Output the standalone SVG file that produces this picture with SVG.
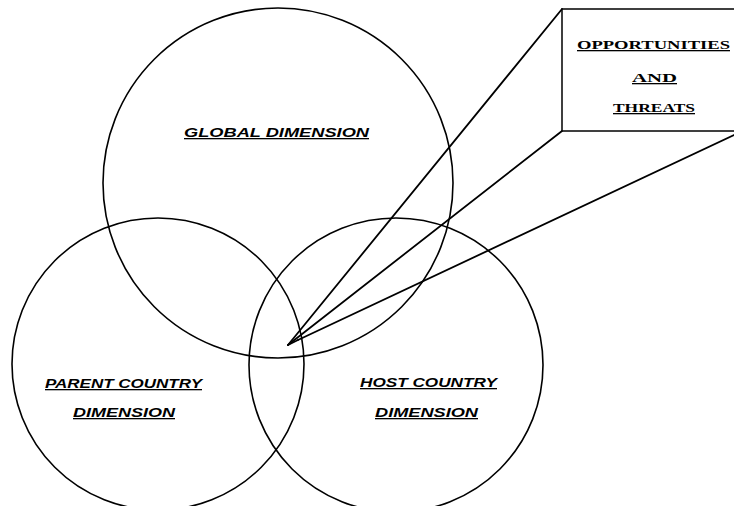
<svg xmlns="http://www.w3.org/2000/svg" width="734" height="506" viewBox="0 0 734 506">
<style>
.ring{fill:none;stroke:#000;stroke-width:1.6}
.lbl{font-family:"Liberation Sans",Arial,sans-serif;font-size:13px;font-weight:bold;font-style:italic;fill:#000;text-decoration:underline}
.blbl{font-family:"Liberation Serif","Times New Roman",serif;font-size:13px;font-weight:bold;fill:#000;text-decoration:underline}
.box{fill:#fff;stroke:#000;stroke-width:1.5}
.conn{stroke:#000;stroke-width:1.8;fill:none;stroke-linecap:round}
</style>
<rect width="734" height="506" fill="#fff"/>
<g id="global">
<circle class="ring" cx="278" cy="183" r="175"/>
<text class="lbl" x="184" y="137" textLength="185" lengthAdjust="spacingAndGlyphs">GLOBAL DIMENSION</text>
</g>
<g id="parent">
<circle class="ring" cx="158" cy="364" r="146"/>
<text class="lbl" x="45" y="388" textLength="157" lengthAdjust="spacingAndGlyphs">PARENT COUNTRY</text>
<text class="lbl" x="73" y="417" textLength="102" lengthAdjust="spacingAndGlyphs">DIMENSION</text>
</g>
<g id="host">
<circle class="ring" cx="396" cy="365" r="147"/>
<text class="lbl" x="360" y="387" textLength="137" lengthAdjust="spacingAndGlyphs">HOST COUNTRY</text>
<text class="lbl" x="375" y="417" textLength="103" lengthAdjust="spacingAndGlyphs">DIMENSION</text>
</g>
<g id="connectors">
<line class="conn" x1="288" y1="345" x2="562" y2="9"/>
<line class="conn" x1="288" y1="345" x2="562" y2="131"/>
<line class="conn" x1="298" y1="340" x2="734" y2="135"/>
<line class="conn" x1="288" y1="345" x2="298" y2="340"/>
</g>
<g id="opportunities">
<rect class="box" x="562" y="9" width="180" height="122"/>
<text class="blbl" x="577" y="49" textLength="153" lengthAdjust="spacingAndGlyphs">OPPORTUNITIES</text>
<text class="blbl" x="632" y="82" textLength="45" lengthAdjust="spacingAndGlyphs">AND</text>
<text class="blbl" x="613" y="112" textLength="82" lengthAdjust="spacingAndGlyphs">THREATS</text>
</g>
</svg>
